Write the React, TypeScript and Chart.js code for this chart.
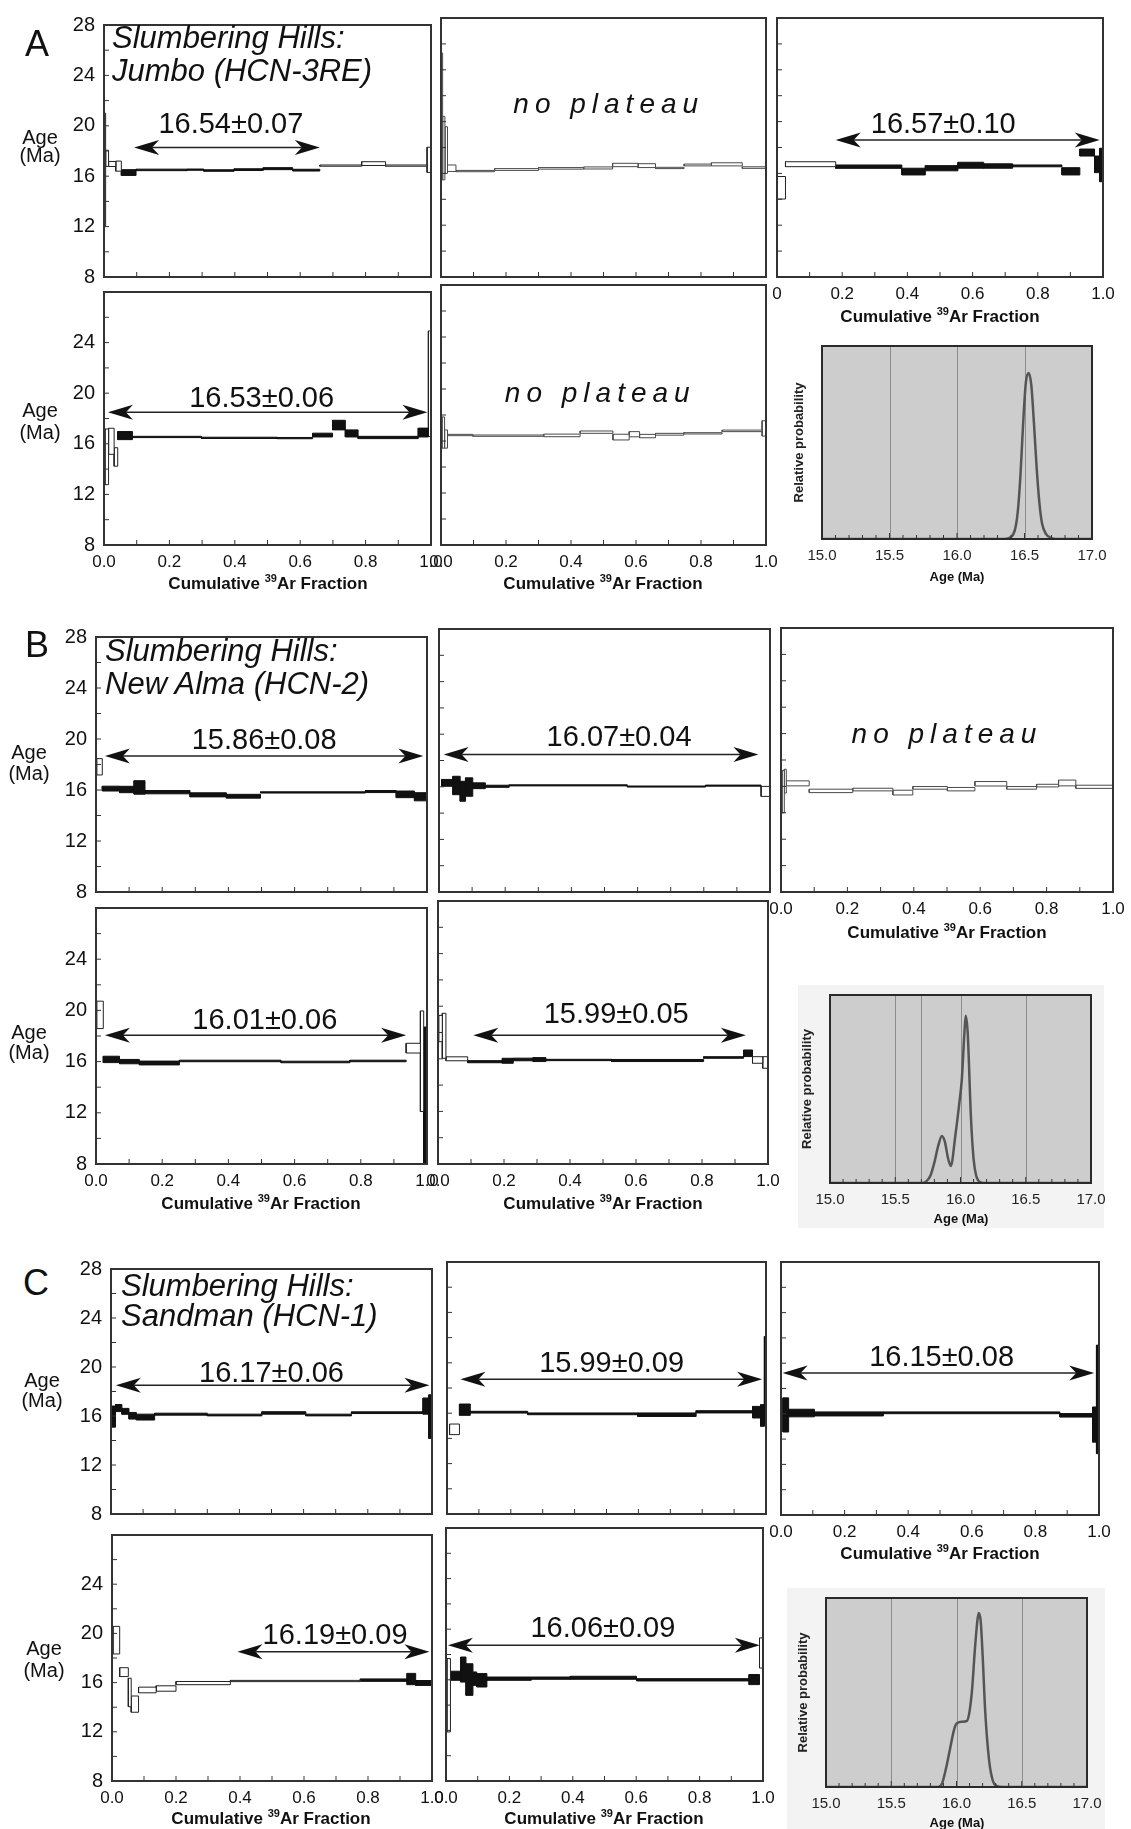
import React, { useEffect, useRef } from "react";
import { Chart, registerables } from "chart.js";
Chart.register(...registerables);

const FONT = "'Liberation Sans', Arial, Helvetica, sans-serif";

// ---------------- DATA: step-heating spectra (cumulative 39Ar edges, age, ±err, plateau flag) ----------------
const A1_EDGES = [0, 0.005, 0.014, 0.036, 0.053, 0.098, 0.254, 0.305, 0.398, 0.487, 0.577, 0.66, 0.788, 0.861, 0.988, 1];
const A1_AGE = [16.5, 17.42, 16.97, 16.8, 16.29, 16.5, 16.52, 16.45, 16.52, 16.6, 16.48, 16.84, 17.0, 16.84, 17.3];
const A1_ERR = [4.5, 0.64, 0.2, 0.4, 0.23, 0.06, 0.05, 0.06, 0.07, 0.08, 0.07, 0.05, 0.15, 0.05, 1.0];
const A1_FILL = [0, 0, 0, 0, 1, 1, 1, 1, 1, 1, 1, 0, 0, 0, 0];

const A2_EDGES = [0, 0.005, 0.012, 0.02, 0.046, 0.165, 0.3, 0.439, 0.528, 0.606, 0.66, 0.748, 0.832, 0.927, 1];
const A2_AGE = [20.4, 17.95, 17.8, 16.4, 16.18, 16.3, 16.39, 16.42, 16.65, 16.6, 16.42, 16.65, 16.7, 16.45];
const A2_ERR = [4.9, 2.45, 1.8, 0.25, 0.05, 0.07, 0.06, 0.08, 0.13, 0.15, 0.05, 0.07, 0.12, 0.06];
const A2_FILL = [0, 0, 0, 0, 0, 0, 0, 0, 0, 0, 0, 0, 0, 0];

const A3_EDGES = [0, 0.026, 0.18, 0.383, 0.455, 0.555, 0.634, 0.723, 0.874, 0.929, 0.974, 0.99, 1];
const A3_AGE = [14.89, 16.71, 16.52, 16.14, 16.4, 16.63, 16.57, 16.58, 16.16, 17.61, 16.7, 16.65];
const A3_ERR = [0.87, 0.19, 0.13, 0.26, 0.2, 0.23, 0.17, 0.07, 0.28, 0.27, 0.64, 1.29];
const A3_FILL = [0, 0, 1, 1, 1, 1, 1, 1, 1, 1, 1, 1];

const A4_EDGES = [0.003, 0.014, 0.031, 0.042, 0.087, 0.298, 0.53, 0.638, 0.699, 0.738, 0.777, 0.961, 0.992, 1];
const A4_AGE = [14.97, 16.2, 14.96, 16.65, 16.54, 16.47, 16.45, 16.69, 17.48, 16.82, 16.5, 16.89, 20.75];
const A4_ERR = [2.2, 1.03, 0.73, 0.32, 0.05, 0.05, 0.05, 0.15, 0.38, 0.28, 0.09, 0.35, 4.17];
const A4_FILL = [0, 0, 0, 1, 1, 1, 1, 1, 1, 1, 1, 1, 0];

const A5_EDGES = [0.003, 0.011, 0.02, 0.098, 0.316, 0.428, 0.529, 0.579, 0.611, 0.66, 0.747, 0.865, 0.988, 1];
const A5_AGE = [16.65, 16.15, 16.46, 16.41, 16.43, 16.68, 16.3, 16.52, 16.38, 16.52, 16.59, 16.78, 16.97];
const A5_ERR = [1.2, 0.7, 0.05, 0.05, 0.1, 0.09, 0.22, 0.2, 0.13, 0.07, 0.05, 0.06, 0.59];
const A5_FILL = [0, 0, 0, 0, 0, 0, 0, 0, 0, 0, 0, 0, 0];

const B1_EDGES = [0.002, 0.019, 0.071, 0.115, 0.148, 0.284, 0.394, 0.497, 0.814, 0.907, 0.962, 1];
const B1_AGE = [17.82, 16.11, 16.04, 16.2, 15.83, 15.62, 15.51, 15.81, 15.88, 15.66, 15.47];
const B1_ERR = [0.64, 0.19, 0.25, 0.53, 0.13, 0.16, 0.15, 0.05, 0.08, 0.26, 0.32];
const B1_FILL = [0, 1, 1, 1, 1, 1, 1, 1, 1, 1, 1];

const B2_EDGES = [0.008, 0.042, 0.064, 0.08, 0.102, 0.14, 0.212, 0.569, 0.805, 0.973, 1];
const B2_AGE = [16.3, 16.1, 15.66, 15.98, 16.08, 16.04, 16.11, 16.02, 16.09, 15.65];
const B2_ERR = [0.26, 0.7, 0.76, 0.7, 0.22, 0.08, 0.04, 0.04, 0.04, 0.38];
const B2_FILL = [1, 1, 1, 1, 1, 1, 1, 1, 1, 0];

const B3_EDGES = [0.003, 0.01, 0.016, 0.085, 0.216, 0.337, 0.397, 0.501, 0.584, 0.68, 0.77, 0.836, 0.888, 1];
const B3_AGE = [15.6, 16.4, 16.23, 15.66, 15.76, 15.53, 15.89, 15.79, 16.2, 15.89, 16.06, 16.26, 15.97];
const B3_ERR = [1.6, 0.9, 0.19, 0.13, 0.1, 0.18, 0.1, 0.13, 0.17, 0.1, 0.1, 0.22, 0.12];
const B3_FILL = [0, 0, 0, 0, 0, 0, 0, 0, 0, 0, 0, 0, 0];

const B4_EDGES = [0.002, 0.022, 0.071, 0.131, 0.252, 0.559, 0.767, 0.937, 0.98, 0.99, 1];
const B4_AGE = [19.65, 16.17, 16.0, 15.89, 16.05, 15.97, 16.05, 17.05, 16.03, 13.3];
const B4_ERR = [1.07, 0.25, 0.17, 0.15, 0.06, 0.06, 0.06, 0.38, 3.93, 5.4];
const B4_FILL = [0, 1, 1, 1, 1, 1, 1, 0, 0, 1];

const B5_EDGES = [0.002, 0.013, 0.024, 0.09, 0.195, 0.228, 0.288, 0.327, 0.526, 0.805, 0.926, 0.953, 0.984, 1];
const B5_AGE = [18.3, 17.75, 16.0, 15.78, 15.85, 15.95, 15.94, 15.91, 15.87, 16.1, 16.42, 15.91, 15.72];
const B5_ERR = [1.0, 1.71, 0.15, 0.08, 0.19, 0.1, 0.15, 0.05, 0.08, 0.06, 0.25, 0.25, 0.44];
const B5_FILL = [0, 0, 0, 1, 1, 1, 1, 1, 1, 1, 1, 0, 0];

const C1_EDGES = [0, 0.014, 0.034, 0.056, 0.079, 0.136, 0.3, 0.47, 0.607, 0.749, 0.972, 0.99, 1];
const C1_AGE = [15.95, 16.65, 16.38, 16.02, 15.91, 16.15, 16.08, 16.25, 16.08, 16.27, 16.81, 15.95];
const C1_ERR = [0.86, 0.29, 0.24, 0.27, 0.24, 0.08, 0.07, 0.1, 0.07, 0.07, 0.66, 1.78];
const C1_FILL = [1, 1, 1, 1, 1, 1, 1, 1, 1, 1, 1, 1];

const C2_EDGES = [0.008, 0.039, 0.073, 0.253, 0.598, 0.781, 0.958, 0.983, 0.995, 1];
const C2_AGE = [14.72, 16.28, 16.08, 15.95, 15.88, 16.11, 16.08, 15.82, 18.59];
const C2_ERR = [0.42, 0.45, 0.07, 0.07, 0.14, 0.09, 0.46, 0.86, 3.5];
const C2_FILL = [0, 1, 1, 1, 1, 1, 1, 1, 1];

const C3_EDGES = [0.006, 0.024, 0.105, 0.322, 0.877, 0.98, 0.992, 1];
const C3_AGE = [15.91, 16.06, 15.99, 16.08, 15.88, 15.15, 17.14];
const C3_ERR = [1.35, 0.3, 0.16, 0.07, 0.14, 1.39, 4.29];
const C3_FILL = [1, 1, 1, 1, 1, 1, 1];

const C4_EDGES = [0.003, 0.024, 0.051, 0.06, 0.083, 0.138, 0.2, 0.37, 0.776, 0.922, 0.949, 1];
const C4_AGE = [19.45, 16.85, 15.2, 14.25, 15.4, 15.52, 15.96, 16.13, 16.2, 16.29, 15.97];
const C4_ERR = [1.12, 0.36, 1.16, 0.66, 0.23, 0.22, 0.13, 0.05, 0.1, 0.46, 0.2];
const C4_FILL = [0, 0, 0, 0, 0, 0, 0, 0, 1, 1, 1];

const C5_EDGES = [0.003, 0.014, 0.046, 0.063, 0.085, 0.097, 0.129, 0.269, 0.392, 0.601, 0.956, 0.989, 1];
const C5_AGE = [14.78, 16.32, 16.81, 16.02, 16.09, 15.96, 16.09, 16.13, 16.16, 16.0, 16.02, 18.12];
const C5_ERR = [2.9, 0.36, 0.99, 1.25, 0.53, 0.53, 0.13, 0.09, 0.12, 0.09, 0.4, 1.19];
const C5_FILL = [0, 1, 1, 1, 1, 1, 1, 1, 1, 1, 1, 0];

// ---------------- DATA: probability curves (age, relative probability) ----------------
const PROB_A_X = [15.0, 16.35, 16.4, 16.43, 16.45, 16.47, 16.49, 16.51, 16.53, 16.55, 16.57, 16.59, 16.61, 16.63, 16.66, 16.7, 16.75, 17.0];
const PROB_A_Y = [0, 0, 0.01, 0.05, 0.14, 0.33, 0.6, 0.81, 0.86, 0.8, 0.6, 0.37, 0.19, 0.08, 0.025, 0.005, 0, 0];
const PROB_B_X = [15.0, 15.7, 15.74, 15.77, 15.8, 15.83, 15.857, 15.88, 15.905, 15.926, 15.96, 15.99, 16.01, 16.03, 16.04, 16.055, 16.08, 16.1, 16.12, 16.15, 16.2, 17.0];
const PROB_B_Y = [0, 0, 0.01, 0.04, 0.11, 0.2, 0.25, 0.22, 0.13, 0.09, 0.25, 0.42, 0.55, 0.8, 0.89, 0.8, 0.35, 0.13, 0.04, 0.005, 0, 0];
const PROB_C_X = [15.0, 15.86, 15.89, 15.92, 15.95, 15.98, 16.0, 16.04, 16.08, 16.1, 16.12, 16.14, 16.16, 16.17, 16.185, 16.2, 16.22, 16.25, 16.28, 16.31, 16.35, 17.0];
const PROB_C_Y = [0, 0, 0.02, 0.1, 0.2, 0.3, 0.335, 0.345, 0.35, 0.4, 0.52, 0.72, 0.88, 0.92, 0.88, 0.7, 0.4, 0.14, 0.03, 0.005, 0, 0];
const PROB_A_LINES = [15.5, 16.0, 16.5];
const PROB_B_LINES = [15.5, 15.7, 16.0, 16.5];
const PROB_C_LINES = [15.5, 16.0, 16.5];

// ---------------- Layout ----------------
const PAD_L = 60, PAD_T = 14, PAD_R = 24, PAD_B = 34;

type Plateau = { text: string; x0: number; x1: number; y: number; tx: number; ty: number };
type StepPanel = {
  key: string; box: number[];
  edges: number[]; ages: number[]; errs: number[]; fill: number[];
  yLabels: boolean; show28: boolean; xLabels: boolean; firstX?: string; faint?: boolean;
  plateau?: Plateau; noPlateau?: { tx: number; ty: number };
};

const STEP_PANELS: StepPanel[] = [
  { key: "A1", box: [104, 18, 431, 277], edges: A1_EDGES, ages: A1_AGE, errs: A1_ERR, fill: A1_FILL, yLabels: true, show28: true, xLabels: false,
    plateau: { text: "16.54±0.07", x0: 0.092, x1: 0.66, y: 18.27, tx: 0.388, ty: 20.1 } },
  { key: "A2", box: [441, 18, 766, 277], edges: A2_EDGES, ages: A2_AGE, errs: A2_ERR, fill: A2_FILL, yLabels: false, show28: true, xLabels: false, faint: true,
    noPlateau: { tx: 0.516, ty: 21.28 } },
  { key: "A3", box: [777, 18, 1103, 277], edges: A3_EDGES, ages: A3_AGE, errs: A3_ERR, fill: A3_FILL, yLabels: false, show28: true, xLabels: true, firstX: "0",
    plateau: { text: "16.57±0.10", x0: 0.18, x1: 0.99, y: 18.58, tx: 0.51, ty: 19.74 } },
  { key: "A4", box: [104, 285, 431, 545], edges: A4_EDGES, ages: A4_AGE, errs: A4_ERR, fill: A4_FILL, yLabels: true, show28: false, xLabels: true,
    plateau: { text: "16.53±0.06", x0: 0.012, x1: 0.989, y: 18.5, tx: 0.482, ty: 19.54 } },
  { key: "A5", box: [441, 285, 766, 545], edges: A5_EDGES, ages: A5_AGE, errs: A5_ERR, fill: A5_FILL, yLabels: false, show28: false, xLabels: true, faint: true,
    noPlateau: { tx: 0.49, ty: 19.6 } },
  { key: "B1", box: [96, 630, 427, 892], edges: B1_EDGES, ages: B1_AGE, errs: B1_ERR, fill: B1_FILL, yLabels: true, show28: true, xLabels: false,
    plateau: { text: "15.86±0.08", x0: 0.027, x1: 0.989, y: 18.66, tx: 0.508, ty: 19.85 } },
  { key: "B2", box: [439, 629, 770, 892], edges: B2_EDGES, ages: B2_AGE, errs: B2_ERR, fill: B2_FILL, yLabels: false, show28: true, xLabels: false,
    plateau: { text: "16.07±0.04", x0: 0.014, x1: 0.965, y: 18.46, tx: 0.544, ty: 19.7 } },
  { key: "B3", box: [781, 628, 1113, 892], edges: B3_EDGES, ages: B3_AGE, errs: B3_ERR, fill: B3_FILL, yLabels: false, show28: true, xLabels: true, faint: true,
    noPlateau: { tx: 0.5, ty: 19.85 } },
  { key: "B4", box: [96, 901, 427, 1164], edges: B4_EDGES, ages: B4_AGE, errs: B4_ERR, fill: B4_FILL, yLabels: true, show28: false, xLabels: true,
    plateau: { text: "16.01±0.06", x0: 0.027, x1: 0.937, y: 18.06, tx: 0.51, ty: 19.2 } },
  { key: "B5", box: [438, 901, 768, 1164], edges: B5_EDGES, ages: B5_AGE, errs: B5_ERR, fill: B5_FILL, yLabels: false, show28: false, xLabels: true,
    plateau: { text: "15.99±0.05", x0: 0.107, x1: 0.933, y: 17.8, tx: 0.54, ty: 19.3 } },
  { key: "C1", box: [111, 1262, 432, 1514], edges: C1_EDGES, ages: C1_AGE, errs: C1_ERR, fill: C1_FILL, yLabels: true, show28: true, xLabels: false,
    plateau: { text: "16.17±0.06", x0: 0.015, x1: 0.992, y: 18.52, tx: 0.5, ty: 19.45 } },
  { key: "C2", box: [447, 1262, 766, 1514], edges: C2_EDGES, ages: C2_AGE, errs: C2_ERR, fill: C2_FILL, yLabels: false, show28: true, xLabels: false,
    plateau: { text: "15.99±0.09", x0: 0.042, x1: 0.988, y: 18.7, tx: 0.516, ty: 19.9 } },
  { key: "C3", box: [781, 1262, 1099, 1515], edges: C3_EDGES, ages: C3_AGE, errs: C3_ERR, fill: C3_FILL, yLabels: false, show28: true, xLabels: true,
    plateau: { text: "16.15±0.08", x0: 0.005, x1: 0.985, y: 19.23, tx: 0.505, ty: 20.42 } },
  { key: "C4", box: [112, 1528, 432, 1781], edges: C4_EDGES, ages: C4_AGE, errs: C4_ERR, fill: C4_FILL, yLabels: true, show28: false, xLabels: true,
    plateau: { text: "16.19±0.09", x0: 0.392, x1: 0.992, y: 18.5, tx: 0.697, ty: 19.78 } },
  { key: "C5", box: [446, 1528, 763, 1781], edges: C5_EDGES, ages: C5_AGE, errs: C5_ERR, fill: C5_FILL, yLabels: false, show28: false, xLabels: true,
    plateau: { text: "16.06±0.09", x0: 0.006, x1: 0.99, y: 18.73, tx: 0.495, ty: 20.0 } },
];

type ProbPanel = { key: string; box: number[]; xs: number[]; ys: number[]; lines: number[] };
const PROB_PANELS: ProbPanel[] = [
  { key: "PA", box: [822, 346, 1092, 539], xs: PROB_A_X, ys: PROB_A_Y, lines: PROB_A_LINES },
  { key: "PB", box: [830, 995, 1091, 1183], xs: PROB_B_X, ys: PROB_B_Y, lines: PROB_B_LINES },
  { key: "PC", box: [826, 1598, 1087, 1787], xs: PROB_C_X, ys: PROB_C_Y, lines: PROB_C_LINES },
];

function drawArrow(ctx: CanvasRenderingContext2D, xa: number, xb: number, yy: number) {
  const L = 25, h = 7.5, n = 18;
  ctx.strokeStyle = "#222";
  ctx.fillStyle = "#111";
  ctx.lineWidth = 1.5;
  ctx.beginPath();
  ctx.moveTo(xa + n, yy);
  ctx.lineTo(xb - n, yy);
  ctx.stroke();
  ctx.beginPath();
  ctx.moveTo(xa, yy); ctx.lineTo(xa + L, yy - h); ctx.lineTo(xa + n, yy); ctx.lineTo(xa + L, yy + h); ctx.closePath();
  ctx.fill();
  ctx.beginPath();
  ctx.moveTo(xb, yy); ctx.lineTo(xb - L, yy - h); ctx.lineTo(xb - n, yy); ctx.lineTo(xb - L, yy + h); ctx.closePath();
  ctx.fill();
}

function stepConfig(p: StepPanel): any {
  const datasets = p.ages.map((age, i) => {
    const lo = age - p.errs[i], hi = age + p.errs[i];
    const x0 = p.edges[i], x1 = p.edges[i + 1];
    const filled = p.fill[i] === 1;
    return {
      data: [{ x: x0, y: lo }, { x: x1, y: lo }, { x: x1, y: hi }, { x: x0, y: hi }, { x: x0, y: lo }],
      showLine: true,
      fill: "shape",
      backgroundColor: filled ? "#111" : "#fff",
      borderColor: filled ? "#111" : p.faint ? "#4a4a4a" : "#222",
      borderWidth: 1,
      pointRadius: 0,
      pointHoverRadius: 0,
      tension: 0,
    };
  });
  const decor = {
    id: "stepDecor" + p.key,
    afterDatasetsDraw(chart: any) {
      const { ctx, chartArea: a } = chart;
      const xs = chart.scales.x, ys = chart.scales.y;
      ctx.save();
      ctx.strokeStyle = "#333";
      ctx.lineWidth = 1;
      ctx.beginPath();
      for (let i = 1; i < 10; i++) {
        const px = xs.getPixelForValue(i / 10);
        ctx.moveTo(px, a.bottom); ctx.lineTo(px, a.bottom - 5);
      }
      for (let v = 10; v < 28; v += 2) {
        const py = ys.getPixelForValue(v);
        ctx.moveTo(a.left, py); ctx.lineTo(a.left + 5, py);
      }
      ctx.stroke();
      ctx.lineWidth = 2;
      ctx.strokeStyle = "#333";
      ctx.strokeRect(a.left, a.top, a.right - a.left, a.bottom - a.top);
      if (p.plateau) {
        const q = p.plateau;
        drawArrow(ctx, xs.getPixelForValue(q.x0), xs.getPixelForValue(q.x1), ys.getPixelForValue(q.y));
        ctx.fillStyle = "#111";
        ctx.font = `29px ${FONT}`;
        ctx.textAlign = "center";
        ctx.textBaseline = "middle";
        ctx.fillText(q.text, xs.getPixelForValue(q.tx), ys.getPixelForValue(q.ty));
      }
      if (p.noPlateau) {
        ctx.fillStyle = "#111";
        ctx.font = `italic 28px ${FONT}`;
        (ctx as any).letterSpacing = "6px";
        ctx.textAlign = "center";
        ctx.textBaseline = "middle";
        ctx.fillText("no plateau", xs.getPixelForValue(p.noPlateau.tx), ys.getPixelForValue(p.noPlateau.ty));
      }
      ctx.restore();
    },
  };
  return {
    type: "scatter",
    data: { datasets },
    options: {
      animation: false,
      responsive: false,
      devicePixelRatio: 1,
      events: [],
      layout: { padding: { left: 0, top: PAD_T, right: PAD_R, bottom: 0 } },
      plugins: { legend: { display: false }, tooltip: { enabled: false } },
      scales: {
        x: {
          type: "linear", min: 0, max: 1,
          grid: { display: false, drawTicks: false },
          border: { display: false },
          ticks: {
            display: p.xLabels, stepSize: 0.2, autoSkip: false, maxRotation: 0, padding: 7,
            color: "#111", font: { family: FONT, size: 17 },
            callback: (v: any) => {
              const n = Number(v);
              if (Math.abs(n) < 1e-9 && p.firstX) return p.firstX;
              return n.toFixed(1);
            },
          },
          afterFit: (s: any) => { s.height = PAD_B; },
        },
        y: {
          type: "linear", min: 8, max: 28,
          grid: { display: false, drawTicks: false },
          border: { display: false },
          ticks: {
            display: p.yLabels, stepSize: 4, padding: 9, color: "#111",
            font: { family: FONT, size: 20 },
            callback: (v: any) => (Number(v) === 28 && !p.show28 ? "" : String(v)),
          },
          afterFit: (s: any) => { s.width = PAD_L; },
        },
      },
    },
    plugins: [decor],
  };
}

function probConfig(p: ProbPanel): any {
  const decor = {
    id: "probDecor" + p.key,
    beforeDatasetsDraw(chart: any) {
      const { ctx, chartArea: a } = chart;
      const xs = chart.scales.x;
      ctx.save();
      ctx.fillStyle = "#cdcdcd";
      ctx.fillRect(a.left, a.top, a.right - a.left, a.bottom - a.top);
      ctx.strokeStyle = "#8c8c8c";
      ctx.lineWidth = 1;
      ctx.beginPath();
      p.lines.forEach((v) => {
        const px = Math.round(xs.getPixelForValue(v)) + 0.5;
        ctx.moveTo(px, a.top); ctx.lineTo(px, a.bottom);
      });
      ctx.stroke();
      ctx.restore();
    },
    afterDatasetsDraw(chart: any) {
      const { ctx, chartArea: a } = chart;
      const xs = chart.scales.x;
      ctx.save();
      ctx.strokeStyle = "#333";
      ctx.lineWidth = 1;
      ctx.beginPath();
      for (let i = 1; i < 20; i++) {
        const px = xs.getPixelForValue(15 + i / 10);
        const len = i % 5 === 0 ? 6 : 4;
        ctx.moveTo(px, a.bottom); ctx.lineTo(px, a.bottom - len);
      }
      ctx.stroke();
      ctx.lineWidth = 2;
      ctx.strokeStyle = "#2a2a2a";
      ctx.strokeRect(a.left, a.top, a.right - a.left, a.bottom - a.top);
      ctx.restore();
    },
  };
  return {
    type: "line",
    data: {
      datasets: [{
        data: p.xs.map((x, i) => ({ x, y: p.ys[i] })),
        borderColor: "#555",
        borderWidth: 2.5,
        pointRadius: 0,
        pointHoverRadius: 0,
        cubicInterpolationMode: "monotone",
        fill: false,
      }],
    },
    options: {
      animation: false,
      responsive: false,
      devicePixelRatio: 1,
      events: [],
      layout: { padding: { left: 0, top: 10, right: 24, bottom: 0 } },
      plugins: { legend: { display: false }, tooltip: { enabled: false } },
      scales: {
        x: {
          type: "linear", min: 15, max: 17,
          grid: { display: false, drawTicks: false },
          border: { display: false },
          ticks: {
            stepSize: 0.5, autoSkip: false, maxRotation: 0, padding: 8, color: "#222",
            font: { family: FONT, size: 15 },
            callback: (v: any) => Number(v).toFixed(1),
          },
          afterFit: (s: any) => { s.height = 34; },
        },
        y: {
          type: "linear", min: 0, max: 1,
          grid: { display: false, drawTicks: false },
          border: { display: false },
          ticks: { display: false },
          title: {
            display: true, text: "Relative probability", color: "#222",
            font: { family: FONT, size: 13, weight: "bold" },
            padding: { top: 10, bottom: 0 },
          },
          afterFit: (s: any) => { s.width = 40; },
        },
      },
    },
    plugins: [decor],
  };
}

function StepChart({ p }: { p: StepPanel }) {
  const ref = useRef<HTMLCanvasElement>(null);
  const [L, T, R, B] = p.box;
  const w = R - L + PAD_L + PAD_R;
  const h = B - T + PAD_T + PAD_B;
  useEffect(() => {
    const chart = new Chart(ref.current as HTMLCanvasElement, stepConfig(p));
    return () => chart.destroy();
  }, [p]);
  return (
    <canvas ref={ref} width={w} height={h}
      style={{ position: "absolute", left: L - PAD_L, top: T - PAD_T, width: w, height: h }} />
  );
}

function ProbChart({ p }: { p: ProbPanel }) {
  const ref = useRef<HTMLCanvasElement>(null);
  const [L, T, R, B] = p.box;
  const w = R - L + 40 + 24;
  const h = B - T + 10 + 34;
  useEffect(() => {
    const chart = new Chart(ref.current as HTMLCanvasElement, probConfig(p));
    return () => chart.destroy();
  }, [p]);
  return (
    <canvas ref={ref} width={w} height={h}
      style={{ position: "absolute", left: L - 40, top: T - 10, width: w, height: h }} />
  );
}

function Txt(props: { x: number; y: number; size: number; center?: boolean; bold?: boolean; italic?: boolean; children: any }) {
  const { x, y, size, center, bold, italic, children } = props;
  return (
    <div style={{
      position: "absolute", left: x, top: y,
      transform: center ? "translate(-50%, -50%)" : "translate(0, -50%)",
      fontSize: size, lineHeight: 1, whiteSpace: "nowrap",
      fontWeight: bold ? "bold" : "normal", fontStyle: italic ? "italic" : "normal",
      fontFamily: FONT, color: "#111",
    }}>{children}</div>
  );
}

const CUM_TITLES = [[940, 316], [268, 583], [603, 583], [947, 932], [261, 1203], [603, 1203], [940, 1553], [271, 1818], [604, 1818]];
const AGE_LABELS = [[40, 137, 155], [40, 410, 432], [29, 752, 773], [29, 1032, 1052], [42, 1380, 1400], [44, 1648, 1670]];
const PROB_AGE_TITLES = [[957, 576], [961, 1218], [957, 1822]];

export default function App() {
  return (
    <div style={{ position: "absolute", left: 0, top: 0, width: 1131, height: 1829, background: "#fff", overflow: "hidden", fontFamily: FONT }}>
      <div style={{ position: "absolute", left: 798, top: 985, width: 306, height: 243, background: "#f3f3f3" }} />
      <div style={{ position: "absolute", left: 787, top: 1588, width: 318, height: 241, background: "#f3f3f3" }} />
      {STEP_PANELS.map((p) => <StepChart key={p.key} p={p} />)}
      {PROB_PANELS.map((p) => <ProbChart key={p.key} p={p} />)}

      <Txt x={37} y={44} size={36} center>A</Txt>
      <Txt x={37} y={645} size={36} center>B</Txt>
      <Txt x={36} y={1283} size={36} center>C</Txt>

      <Txt x={112} y={37} size={31} italic>Slumbering Hills:</Txt>
      <Txt x={112} y={70} size={31} italic>Jumbo (HCN-3RE)</Txt>
      <Txt x={105} y={650} size={31} italic>Slumbering Hills:</Txt>
      <Txt x={105} y={683} size={31} italic>New Alma (HCN-2)</Txt>
      <Txt x={121} y={1285} size={31} italic>Slumbering Hills:</Txt>
      <Txt x={121} y={1315} size={31} italic>Sandman (HCN-1)</Txt>

      {AGE_LABELS.map(([x, y1, y2], i) => (
        <React.Fragment key={"age" + i}>
          <Txt x={x} y={y1} size={20} center>Age</Txt>
          <Txt x={x} y={y2} size={20} center>(Ma)</Txt>
        </React.Fragment>
      ))}

      {CUM_TITLES.map(([x, y], i) => (
        <Txt key={"cum" + i} x={x} y={y} size={17} center bold>
          Cumulative <span style={{ fontSize: 11, position: "relative", top: -7 }}>39</span>Ar Fraction
        </Txt>
      ))}

      {PROB_AGE_TITLES.map(([x, y], i) => (
        <Txt key={"pa" + i} x={x} y={y} size={13} center bold>Age (Ma)</Txt>
      ))}
    </div>
  );
}
